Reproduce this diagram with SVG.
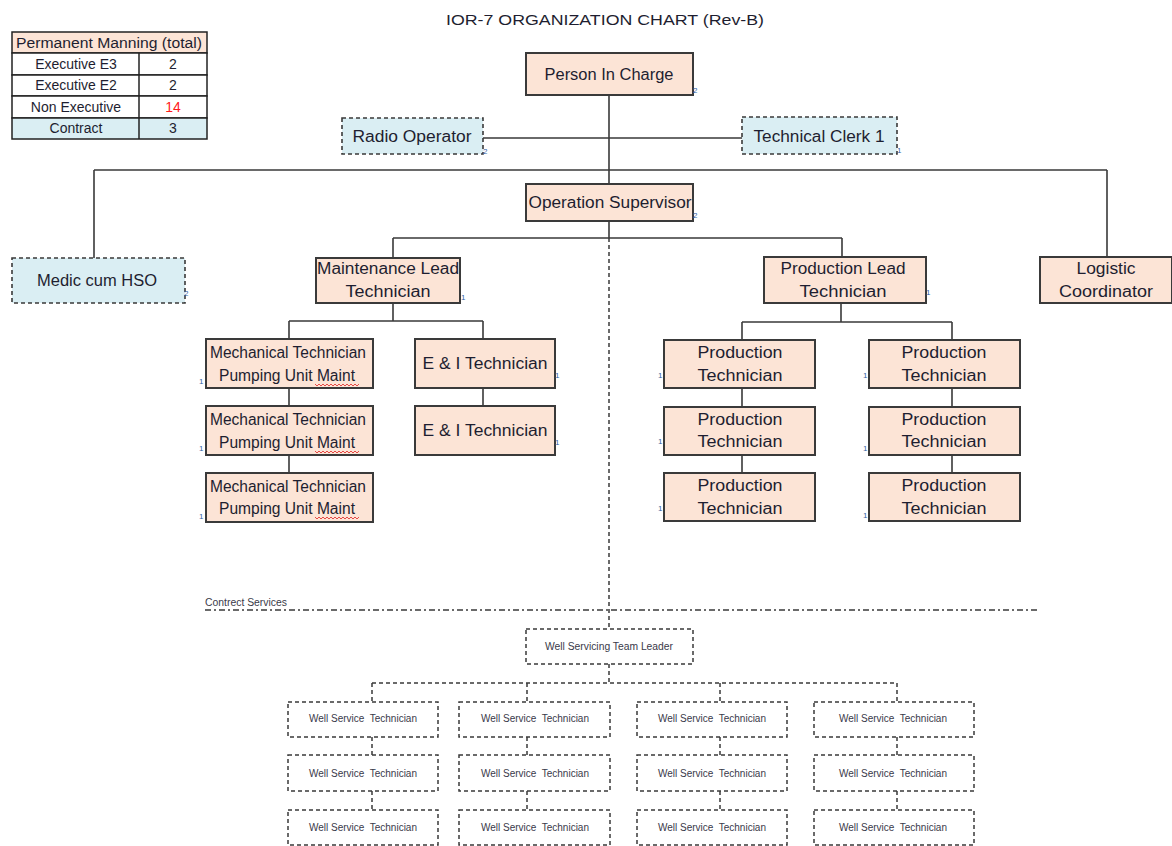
<svg xmlns="http://www.w3.org/2000/svg" width="1172" height="846" viewBox="0 0 1172 846">
<style>
text{font-family:"Liberation Sans",Arial,sans-serif;fill:#1e1e30}
.t{font-size:16px;text-anchor:middle}
.s{font-size:10px;text-anchor:middle;fill:#3a3a4a}
.tb{font-size:14px;text-anchor:middle}
.n{font-size:8px;fill:#2f5f9f}
.peach{fill:#FCE4D6;stroke:#3a3a3a;stroke-width:2}
.blue{fill:#DAEEF3;stroke:#3a3a3a;stroke-width:1.6;stroke-dasharray:4 3}
.ws{fill:#fff;stroke:#3a3a3a;stroke-width:1.5;stroke-dasharray:4 3}
.c{fill:none;stroke:#3a3a3a;stroke-width:1.6}
.cd{fill:none;stroke:#3a3a3a;stroke-width:1.5;stroke-dasharray:4 3}
.cdd{fill:none;stroke:#3a3a3a;stroke-width:1.3;stroke-dasharray:6 3 2 3}
.sq{fill:none;stroke:#e02020;stroke-width:0.8}
</style>
<rect width="1172" height="846" fill="#fff"/>
<text x="605" y="25" class="t" textLength="318" lengthAdjust="spacingAndGlyphs" style="font-size:15px">IOR-7 ORGANIZATION CHART (Rev-B)</text>

<g id="manning-table">
<rect x="12" y="32" width="195" height="21" fill="#FCE4D6" stroke="#222" stroke-width="1.5"/>
<rect x="12" y="53" width="195" height="22" fill="#fff" stroke="#222" stroke-width="1.5"/>
<rect x="12" y="75" width="195" height="21" fill="#fff" stroke="#222" stroke-width="1.5"/>
<rect x="12" y="96" width="195" height="22" fill="#fff" stroke="#222" stroke-width="1.5"/>
<rect x="12" y="118" width="195" height="21" fill="#DAEEF3" stroke="#222" stroke-width="1.5"/>
<line x1="139" y1="53" x2="139" y2="139" stroke="#222" stroke-width="1.5"/>
<text x="109" y="48" class="tb" textLength="186" lengthAdjust="spacingAndGlyphs">Permanent Manning (total)</text>
<text x="76" y="69" class="tb">Executive E3</text><text x="173" y="69" class="tb">2</text>
<text x="76" y="90" class="tb">Executive E2</text><text x="173" y="90" class="tb">2</text>
<text x="76" y="112" class="tb">Non Executive</text><text x="173" y="112" class="tb" style="fill:#ff1a1a">14</text>
<text x="76" y="133" class="tb">Contract</text><text x="173" y="133" class="tb">3</text>
</g>

<g id="connectors">
<path class="c" d="M609 95V184M483 138H742M94 170H1107M94 170V258M1107 170V258M609 221V238M393 238H842M393 238V258M842 238V257"/>
<path class="c" d="M393 303V321M289 321H483M289 321V339M483 321V339M289 388V406M289 455V473M483 388V406"/>
<path class="c" d="M841 303V322M742 322H952M742 322V340M952 322V340M742 388V407M742 455V473M952 388V407M952 455V473"/>
<path class="cd" d="M609 238V629M609 664V683M372 683H897M372 683V702M527 683V702M720 683V702M897 683V702M372 737V755M527 737V755M720 737V755M897 737V755M372 791V810M527 791V810M720 791V810M897 791V810"/>
<path class="cdd" d="M205 610H1040"/>
</g>

<g id="person-in-charge"><rect class="peach" x="526" y="53" width="167" height="42"/><text x="609" y="80" class="t" textLength="129" lengthAdjust="spacingAndGlyphs">Person In Charge</text><text x="693" y="93" class="n">2</text></g>
<g id="radio-operator"><rect class="blue" x="342" y="118" width="141" height="36"/><text x="412" y="142" class="t" textLength="119" lengthAdjust="spacingAndGlyphs">Radio Operator</text><text x="483" y="154" class="n">2</text></g>
<g id="technical-clerk"><rect class="blue" x="742" y="117" width="155" height="37"/><text x="819" y="142" class="t" textLength="131" lengthAdjust="spacingAndGlyphs">Technical Clerk 1</text><text x="897" y="153" class="n">1</text></g>
<g id="operation-supervisor"><rect class="peach" x="526" y="184" width="167" height="37"/><text x="610" y="208" class="t" textLength="163" lengthAdjust="spacingAndGlyphs">Operation Supervisor</text><text x="693" y="218" class="n">2</text></g>
<g id="medic"><rect class="blue" x="12" y="258" width="173" height="45"/><text x="97" y="286" class="t" textLength="120" lengthAdjust="spacingAndGlyphs">Medic cum HSO</text><text x="184" y="296" class="n">2</text></g>
<g id="maintenance-lead"><rect class="peach" x="316" y="258" width="144" height="45"/><text x="388" y="274" class="t" textLength="142" lengthAdjust="spacingAndGlyphs">Maintenance Lead</text><text x="388" y="297" class="t" textLength="85" lengthAdjust="spacingAndGlyphs">Technician</text><text x="461" y="300" class="n">1</text></g>
<g id="production-lead"><rect class="peach" x="764" y="257" width="162" height="46"/><text x="843" y="274" class="t" textLength="125" lengthAdjust="spacingAndGlyphs">Production Lead</text><text x="843" y="297" class="t" textLength="87" lengthAdjust="spacingAndGlyphs">Technician</text><text x="926" y="295" class="n">1</text></g>
<g id="logistic-coordinator"><rect class="peach" x="1040" y="257" width="132" height="46"/><text x="1106" y="274" class="t" textLength="59" lengthAdjust="spacingAndGlyphs">Logistic</text><text x="1106" y="297" class="t" textLength="94" lengthAdjust="spacingAndGlyphs">Coordinator</text></g>

<g id="mech-tech-1"><rect class="peach" x="206" y="339" width="167" height="49"/><text x="288" y="358" class="t" textLength="156" lengthAdjust="spacingAndGlyphs">Mechanical Technician</text><text x="287" y="381" class="t" textLength="136" lengthAdjust="spacingAndGlyphs">Pumping Unit Maint</text><path class="sq" d="M315 384l2 2 2-2 2 2 2-2 2 2 2-2 2 2 2-2 2 2 2-2 2 2 2-2 2 2 2-2 2 2 2-2 2 2 2-2 2 2 2-2 2 2 2-2"/><text x="199" y="384" class="n">1</text></g>
<g id="mech-tech-2"><rect class="peach" x="206" y="406" width="167" height="49"/><text x="288" y="425" class="t" textLength="156" lengthAdjust="spacingAndGlyphs">Mechanical Technician</text><text x="287" y="448" class="t" textLength="136" lengthAdjust="spacingAndGlyphs">Pumping Unit Maint</text><path class="sq" d="M315 451l2 2 2-2 2 2 2-2 2 2 2-2 2 2 2-2 2 2 2-2 2 2 2-2 2 2 2-2 2 2 2-2 2 2 2-2 2 2 2-2 2 2 2-2"/><text x="199" y="451" class="n">1</text></g>
<g id="mech-tech-3"><rect class="peach" x="206" y="473" width="167" height="49"/><text x="288" y="492" class="t" textLength="156" lengthAdjust="spacingAndGlyphs">Mechanical Technician</text><text x="287" y="514" class="t" textLength="136" lengthAdjust="spacingAndGlyphs">Pumping Unit Maint</text><path class="sq" d="M315 517l2 2 2-2 2 2 2-2 2 2 2-2 2 2 2-2 2 2 2-2 2 2 2-2 2 2 2-2 2 2 2-2 2 2 2-2 2 2 2-2 2 2 2-2"/><text x="199" y="519" class="n">1</text></g>
<g id="ei-tech-1"><rect class="peach" x="415" y="339" width="140" height="49"/><text x="485" y="369" class="t" textLength="125" lengthAdjust="spacingAndGlyphs">E &amp; I Technician</text><text x="555" y="378" class="n">1</text></g>
<g id="ei-tech-2"><rect class="peach" x="415" y="406" width="140" height="49"/><text x="485" y="436" class="t" textLength="125" lengthAdjust="spacingAndGlyphs">E &amp; I Technician</text><text x="555" y="445" class="n">1</text></g>

<g id="prod-tech-1"><rect class="peach" x="664" y="340" width="151" height="48"/><text x="740" y="358" class="t" textLength="85" lengthAdjust="spacingAndGlyphs">Production</text><text x="740" y="381" class="t" textLength="85" lengthAdjust="spacingAndGlyphs">Technician</text><text x="658" y="378" class="n">1</text></g>
<g id="prod-tech-2"><rect class="peach" x="664" y="407" width="151" height="48"/><text x="740" y="425" class="t" textLength="85" lengthAdjust="spacingAndGlyphs">Production</text><text x="740" y="447" class="t" textLength="85" lengthAdjust="spacingAndGlyphs">Technician</text><text x="658" y="444" class="n">1</text></g>
<g id="prod-tech-3"><rect class="peach" x="664" y="473" width="151" height="48"/><text x="740" y="491" class="t" textLength="85" lengthAdjust="spacingAndGlyphs">Production</text><text x="740" y="514" class="t" textLength="85" lengthAdjust="spacingAndGlyphs">Technician</text><text x="658" y="511" class="n">1</text></g>
<g id="prod-tech-4"><rect class="peach" x="869" y="340" width="151" height="48"/><text x="944" y="358" class="t" textLength="85" lengthAdjust="spacingAndGlyphs">Production</text><text x="944" y="381" class="t" textLength="85" lengthAdjust="spacingAndGlyphs">Technician</text><text x="863" y="378" class="n">1</text></g>
<g id="prod-tech-5"><rect class="peach" x="869" y="407" width="151" height="48"/><text x="944" y="425" class="t" textLength="85" lengthAdjust="spacingAndGlyphs">Production</text><text x="944" y="447" class="t" textLength="85" lengthAdjust="spacingAndGlyphs">Technician</text><text x="863" y="451" class="n">1</text></g>
<g id="prod-tech-6"><rect class="peach" x="869" y="473" width="151" height="48"/><text x="944" y="491" class="t" textLength="85" lengthAdjust="spacingAndGlyphs">Production</text><text x="944" y="514" class="t" textLength="85" lengthAdjust="spacingAndGlyphs">Technician</text><text x="863" y="518" class="n">1</text></g>

<text x="205" y="606" textLength="82" lengthAdjust="spacingAndGlyphs" style="font-size:10px;fill:#3a3a4a">Contrect Services</text>

<g id="well-servicing-team-leader"><rect class="ws" x="526" y="629" width="167" height="35"/><text x="609" y="650" class="s" textLength="128" lengthAdjust="spacingAndGlyphs">Well Servicing Team Leader</text></g>

<g id="wst-1-1"><rect class="ws" x="288" y="702" width="150" height="35"/><text x="363" y="722" class="s" xml:space="preserve">Well Service  Technician</text></g>
<g id="wst-1-2"><rect class="ws" x="288" y="755" width="150" height="36"/><text x="363" y="777" class="s" xml:space="preserve">Well Service  Technician</text></g>
<g id="wst-1-3"><rect class="ws" x="288" y="810" width="150" height="35"/><text x="363" y="831" class="s" xml:space="preserve">Well Service  Technician</text></g>
<g id="wst-2-1"><rect class="ws" x="459" y="702" width="151" height="35"/><text x="535" y="722" class="s" xml:space="preserve">Well Service  Technician</text></g>
<g id="wst-2-2"><rect class="ws" x="459" y="755" width="151" height="36"/><text x="535" y="777" class="s" xml:space="preserve">Well Service  Technician</text></g>
<g id="wst-2-3"><rect class="ws" x="459" y="810" width="151" height="35"/><text x="535" y="831" class="s" xml:space="preserve">Well Service  Technician</text></g>
<g id="wst-3-1"><rect class="ws" x="637" y="702" width="150" height="35"/><text x="712" y="722" class="s" xml:space="preserve">Well Service  Technician</text></g>
<g id="wst-3-2"><rect class="ws" x="637" y="755" width="150" height="36"/><text x="712" y="777" class="s" xml:space="preserve">Well Service  Technician</text></g>
<g id="wst-3-3"><rect class="ws" x="637" y="810" width="150" height="35"/><text x="712" y="831" class="s" xml:space="preserve">Well Service  Technician</text></g>
<g id="wst-4-1"><rect class="ws" x="814" y="702" width="160" height="35"/><text x="893" y="722" class="s" xml:space="preserve">Well Service  Technician</text></g>
<g id="wst-4-2"><rect class="ws" x="814" y="755" width="160" height="36"/><text x="893" y="777" class="s" xml:space="preserve">Well Service  Technician</text></g>
<g id="wst-4-3"><rect class="ws" x="814" y="810" width="160" height="35"/><text x="893" y="831" class="s" xml:space="preserve">Well Service  Technician</text></g>
</svg>
